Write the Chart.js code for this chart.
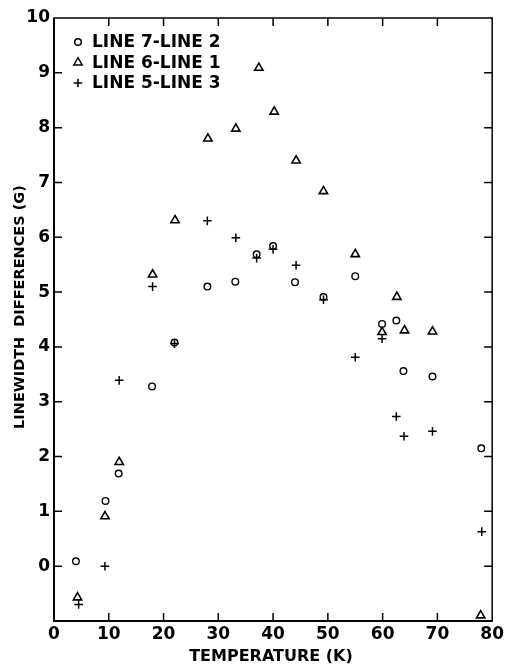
<!DOCTYPE html>
<html lang="en">
<head>
  <meta charset="UTF-8" />
  <title>Linewidth differences vs temperature</title>
  <script src="https://cdn.jsdelivr.net/npm/chart.js"></script>
  <style>
    html, body { margin: 0; padding: 0; background: #fff; }
    .wrap { width: 507px; height: 664px; }
  </style>
</head>
<body>
  <div class="wrap"><canvas id="lwChart" width="507" height="664"></canvas></div>

  <script>
    // series names (legend)
    const seriesNames = ['LINE 7-LINE 2', 'LINE 6-LINE 1', 'LINE 5-LINE 3'];

    // LINE 7 - LINE 2 (circles)
    const l72Temp = [4.0, 9.4, 11.8, 17.9, 22.0, 28.0, 33.1, 37.0, 40.0, 44.0, 49.2, 55.0, 59.9, 62.5, 63.8, 69.1, 78.0];
    const l72Diff = [0.09, 1.19, 1.69, 3.28, 4.08, 5.10, 5.19, 5.69, 5.84, 5.18, 4.91, 5.29, 4.42, 4.48, 3.56, 3.46, 2.15];

    // LINE 6 - LINE 1 (triangles)
    const l61Temp = [4.3, 9.3, 11.9, 18.0, 22.1, 28.1, 33.2, 37.4, 40.2, 44.2, 49.2, 55.0, 59.9, 62.6, 64.0, 69.1, 77.9];
    const l61Diff = [-0.57, 0.91, 1.90, 5.32, 6.31, 7.80, 7.98, 9.09, 8.29, 7.40, 6.84, 5.69, 4.27, 4.91, 4.30, 4.28, -0.90];

    // LINE 5 - LINE 3 (crosses)
    const l53Temp = [4.5, 9.3, 11.9, 18.0, 22.0, 28.0, 33.2, 37.0, 40.0, 44.2, 49.2, 55.0, 59.9, 62.5, 63.9, 69.1, 78.1];
    const l53Diff = [-0.70, 0.00, 3.39, 5.10, 4.06, 6.30, 5.99, 5.62, 5.78, 5.49, 4.86, 3.81, 4.15, 2.73, 2.37, 2.46, 0.63];

    // axis ranges / tick labels
    const xTicks = [0, 10, 20, 30, 40, 50, 60, 70, 80];
    const yTicks = [0, 1, 2, 3, 4, 5, 6, 7, 8, 9, 10];
    const xTitle = 'TEMPERATURE (K)';
    const yTitle = 'LINEWIDTH  DIFFERENCES (G)';

    const FONT = '"DejaVu Sans", sans-serif';

    function toPoints(xs, ys) {
      return xs.map((x, i) => ({ x: x, y: ys[i] }));
    }

    const markStyles = [
      { pointStyle: 'circle', radius: 3.3, borderWidth: 1.4 },
      { pointStyle: 'triangle', radius: 4.8, borderWidth: 1.6 },
      { pointStyle: 'cross', radius: 4.3, borderWidth: 1.5 }
    ];

    // frame, inward ticks, legend and axis titles
    const framePlugin = {
      id: 'frame',
      afterDatasetsDraw(chart) {
        const ctx = chart.ctx;
        const a = chart.chartArea;
        const xs = chart.scales.x;
        const ys = chart.scales.y;
        const tl = 8;

        ctx.save();
        ctx.strokeStyle = '#000';

        // box
        ctx.lineWidth = 1.5;
        ctx.strokeRect(a.left, a.top, a.right - a.left, a.bottom - a.top);
        ctx.lineWidth = 2;
        ctx.beginPath();
        ctx.moveTo(a.left, a.top);
        ctx.lineTo(a.left, a.bottom);
        ctx.lineTo(a.right, a.bottom);
        ctx.stroke();

        // ticks pointing in
        ctx.lineWidth = 1.5;
        ctx.beginPath();
        xs.ticks.forEach(t => {
          if (t.value <= xs.min || t.value >= xs.max) return;
          const px = xs.getPixelForValue(t.value);
          ctx.moveTo(px, a.bottom); ctx.lineTo(px, a.bottom - tl);
          ctx.moveTo(px, a.top); ctx.lineTo(px, a.top + tl);
        });
        ys.ticks.forEach(t => {
          if (t.value <= ys.min || t.value >= ys.max) return;
          const py = ys.getPixelForValue(t.value);
          ctx.moveTo(a.left, py); ctx.lineTo(a.left + tl, py);
          ctx.moveTo(a.right, py); ctx.lineTo(a.right - tl, py);
        });
        ctx.stroke();

        // legend inside the plot (hollow markers)
        ctx.font = 'bold 17px ' + FONT;
        ctx.textBaseline = 'middle';
        ctx.textAlign = 'left';
        chart.data.datasets.forEach((ds, i) => {
          const ly = 42 + i * 20.5;
          const st = markStyles[i];
          ctx.fillStyle = 'rgba(0,0,0,0)';
          ctx.strokeStyle = '#000';
          Chart.helpers.drawPoint(ctx, {
            pointStyle: st.pointStyle, radius: st.radius, borderWidth: st.borderWidth, rotation: 0
          }, 78, ly);
          ctx.fillStyle = '#000';
          ctx.fillText(ds.label, 92, ly + 1);
        });

        // axis titles
        ctx.fillStyle = '#000';
        ctx.font = 'bold 16px ' + FONT;
        ctx.textAlign = 'center';
        ctx.fillText(xTitle, 271, 657);

        ctx.font = 'bold 14.5px ' + FONT;
        ctx.translate(20, 307);
        ctx.rotate(-Math.PI / 2);
        ctx.fillText(yTitle, 0, 0);
        ctx.restore();
      }
    };

    const datasets = [
      { label: seriesNames[0], data: toPoints(l72Temp, l72Diff) },
      { label: seriesNames[1], data: toPoints(l61Temp, l61Diff) },
      { label: seriesNames[2], data: toPoints(l53Temp, l53Diff) }
    ].map((ds, i) => Object.assign(ds, {
      pointStyle: markStyles[i].pointStyle,
      pointRadius: markStyles[i].radius,
      pointBorderWidth: markStyles[i].borderWidth,
      borderColor: '#000',
      backgroundColor: 'rgba(0,0,0,0)',
      pointBackgroundColor: 'rgba(0,0,0,0)',
      showLine: false
    }));

    const ctx = document.getElementById('lwChart').getContext('2d');
    new Chart(ctx, {
      type: 'scatter',
      data: { datasets: datasets },
      options: {
        responsive: false,
        animation: false,
        devicePixelRatio: 1,
        layout: { padding: { top: 18, right: 11, left: 0, bottom: 0 } },
        plugins: {
          legend: { display: false },
          tooltip: { enabled: false }
        },
        scales: {
          x: {
            type: 'linear',
            min: xTicks[0],
            max: xTicks[xTicks.length - 1],
            grid: { display: false, drawTicks: false },
            border: { display: false },
            afterBuildTicks: s => { s.ticks = xTicks.map(v => ({ value: v })); },
            afterFit: s => { s.height = 43; },
            ticks: {
              padding: 3,
              maxRotation: 0,
              color: '#000',
              font: { family: FONT, size: 17, weight: 'bold' }
            }
          },
          y: {
            type: 'linear',
            min: -1,
            max: 10,
            grid: { display: false, drawTicks: false },
            border: { display: false },
            afterBuildTicks: s => { s.ticks = [-1].concat(yTicks).map(v => ({ value: v })); },
            afterFit: s => { s.width = 54; },
            ticks: {
              padding: 4,
              color: '#000',
              font: { family: FONT, size: 17, weight: 'bold' },
              callback: v => (yTicks.includes(v) ? String(v) : '')
            }
          }
        }
      },
      plugins: [framePlugin]
    });
  </script>
</body>
</html>
